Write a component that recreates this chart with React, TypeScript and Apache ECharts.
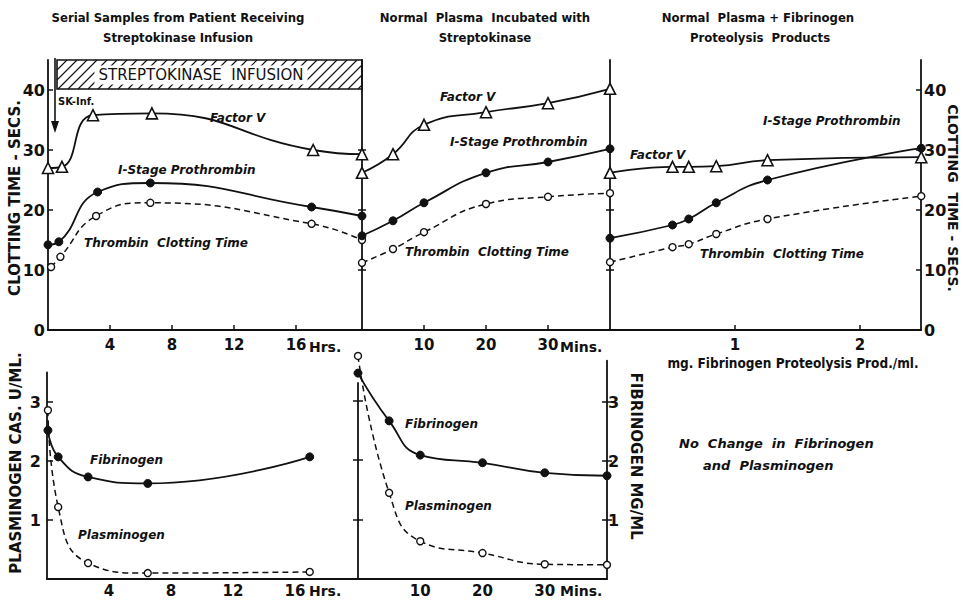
import React, { useEffect, useRef } from "react";
import * as echarts from "echarts";

const FONT = "'DejaVu Sans', sans-serif";
const COND = "'DejaVu Sans Condensed', 'DejaVu Sans', sans-serif";

// ---- Top-left: serial samples (hours) ----
const tlFactorVHrs = [0, 0.9, 2.9, 6.7, 17.1, 20.25];
const tlFactorV = [27, 27.2, 35.8, 36.1, 30, 29.3];
const tlProthHrs = [0, 0.7, 3.2, 6.6, 17, 20.25];
const tlProth = [14.2, 14.7, 23, 24.5, 20.5, 19];
const tlThrombinHrs = [0.2, 0.8, 3.1, 6.6, 17, 20.25];
const tlThrombin = [10.5, 12.2, 19, 21.2, 17.7, 15];

// ---- Top-middle: normal plasma + streptokinase (minutes) ----
const tmMins = [0, 5, 10, 20, 30, 40];
const tmFactorV = [26.2, 29.3, 34.2, 36.3, 37.8, 40.2];
const tmProth = [15.7, 18.2, 21.2, 26.2, 28, 30.2];
const tmThrombin = [11.2, 13.5, 16.3, 21, 22.2, 22.8];

// ---- Top-right: fibrinogen proteolysis products (mg/ml) ----
const trMg = [0, 0.5, 0.63, 0.85, 1.26, 2.49];
const trFactorV = [26.2, 27.2, 27.2, 27.3, 28.3, 28.8];
const trProth = [15.3, 17.5, 18.5, 21.2, 25, 30.3];
const trThrombin = [11.3, 13.8, 14.3, 16, 18.5, 22.3];

// ---- Bottom-left (hours) ----
const blHrs = [0.06, 0.72, 2.65, 6.5, 16.95];
const blFibrinogen = [2.52, 2.07, 1.73, 1.62, 2.07];
const blPlasminogen = [2.86, 1.22, 0.27, 0.1, 0.12];

// ---- Bottom-middle (minutes) ----
const bmMins = [0, 5, 10, 20, 30, 40];
const bmFibrinogen = [3.49, 2.68, 2.1, 1.97, 1.8, 1.75];
const bmPlasminogen = [3.78, 1.46, 0.64, 0.44, 0.25, 0.24];

// ---- Tick values ----
const hrsTicks = [4, 8, 12, 16];
const minsTicks = [10, 20, 30];
const mgTicks = [1, 2];
const secsLabels = [0, 10, 20, 30, 40];
const secsTicks = [10, 20, 30, 40];
const dividerTicks = [10, 20, 30];
const unitTicks = [1, 2, 3];

const pts = (xs: number[], ys: number[]) => xs.map((x, i) => [x, ys[i]]);

const BLACK = "#111";

function xAx(gridIndex: number, max: number, ticks: number[], opts: any = {}) {
  return {
    type: "value",
    gridIndex,
    min: 0,
    max,
    axisLine: { show: true, onZero: false, lineStyle: { color: BLACK, width: 1.8 } },
    axisTick: {
      show: opts.tick !== false,
      inside: true,
      length: 5,
      customValues: ticks,
      lineStyle: { color: BLACK, width: 1.5 },
    },
    axisLabel: {
      show: true,
      customValues: ticks,
      color: BLACK,
      fontFamily: FONT,
      fontWeight: "bold",
      fontSize: 15,
      margin: opts.margin ?? 7,
    },
    splitLine: { show: false },
  };
}

function yAx(gridIndex: number, max: number, o: any) {
  return {
    type: "value",
    gridIndex,
    min: 0,
    max,
    position: o.position || "left",
    axisLine: { show: o.line !== false, onZero: false, lineStyle: { color: BLACK, width: 1.8 } },
    axisTick: {
      show: !!o.ticks,
      inside: !!o.inside,
      length: o.tickLen ?? 5,
      customValues: o.ticks || [],
      lineStyle: { color: BLACK, width: 1.5 },
    },
    axisLabel: {
      show: !!o.labels,
      customValues: o.labels || [],
      color: BLACK,
      fontFamily: FONT,
      fontWeight: "bold",
      fontSize: o.fontSize ?? 16,
      margin: o.margin ?? 4,
    },
    splitLine: { show: false },
  };
}

function ser(kind: string, data: number[][], xi: number, yi: number) {
  const base: any = {
    type: "line",
    xAxisIndex: xi,
    yAxisIndex: yi,
    data,
    smooth: 0.5,
    clip: false,
    showSymbol: true,
    z: 5,
  };
  if (kind === "tri") {
    return {
      ...base,
      symbol: "triangle",
      symbolSize: 11,
      itemStyle: { color: "#fff", borderColor: BLACK, borderWidth: 1.6 },
      lineStyle: { color: BLACK, width: 1.8 },
    };
  }
  if (kind === "dot") {
    return {
      ...base,
      symbol: "circle",
      symbolSize: 8,
      itemStyle: { color: BLACK, borderColor: BLACK, borderWidth: 1 },
      lineStyle: { color: BLACK, width: 1.8 },
    };
  }
  return {
    ...base,
    symbol: "circle",
    symbolSize: 7,
    itemStyle: { color: "#fff", borderColor: BLACK, borderWidth: 1.4 },
    lineStyle: { color: BLACK, width: 1.5, type: [6, 4] },
  };
}

function txt(text: string, x: number, y: number, o: any = {}) {
  return {
    type: "text",
    x,
    y,
    rotation: o.rotation || 0,
    z: 10,
    style: {
      text,
      fill: BLACK,
      font: `${o.italic ? "italic " : ""}${o.weight || "bold"} ${o.size || 13}px ${o.family || FONT}`,
      textAlign: o.align || "left",
      textVerticalAlign: "middle",
      backgroundColor: o.bg,
      padding: o.pad,
    },
  };
}

export default function App() {
  const ref = useRef<HTMLDivElement>(null);
  useEffect(() => {
    const chart = echarts.init(ref.current!, null, { renderer: "svg" });

    // hatched infusion box
    const hatch: any[] = [];
    const hx0 = 57, hx1 = 362, hy0 = 60, hy1 = 89, step = 10;
    const hh = hy1 - hy0;
    for (let c = hx0 - hh; c < hx1; c += step) {
      let xa = c, ya = hy1, xb = c + hh, yb = hy0;
      if (xa < hx0) { ya = hy1 - (hx0 - c); xa = hx0; }
      if (xb > hx1) { yb = hy1 - (hx1 - c); xb = hx1; }
      hatch.push({ type: "line", z: 8, shape: { x1: xa, y1: ya, x2: xb, y2: yb }, style: { stroke: BLACK, lineWidth: 1.1 } });
    }

    const it = { italic: true, size: 12 };

    const graphics: any[] = [
      ...hatch,
      { type: "rect", z: 9, shape: { x: hx0, y: hy0, width: hx1 - hx0, height: hh }, style: { fill: "none", stroke: BLACK, lineWidth: 1.6 } },
      txt("STREPTOKINASE  INFUSION", 201, 75, { size: 15, weight: "normal", align: "center", bg: "#fff", pad: [2, 4] }),
      // SK-Inf arrow
      { type: "line", z: 9, shape: { x1: 55, y1: 58, x2: 55, y2: 124 }, style: { stroke: BLACK, lineWidth: 1.6 } },
      { type: "polygon", z: 9, shape: { points: [[51, 121], [59, 121], [55, 133]] }, style: { fill: BLACK } },
      txt("SK-Inf.", 58, 101, { size: 11, family: COND }),
      // titles
      txt("Serial Samples from Patient Receiving", 178, 17, { size: 13, family: COND, align: "center" }),
      txt("Streptokinase Infusion", 178, 37, { size: 13, family: COND, align: "center" }),
      txt("Normal  Plasma  Incubated with", 485, 17, { size: 13, family: COND, align: "center" }),
      txt("Streptokinase", 485, 37, { size: 13, family: COND, align: "center" }),
      txt("Normal  Plasma + Fibrinogen", 758, 17, { size: 13, family: COND, align: "center" }),
      txt("Proteolysis  Products", 760, 37, { size: 13, family: COND, align: "center" }),
      // axis names
      txt("CLOTTING TIME - SECS.", 15, 198, { size: 15, align: "center", rotation: Math.PI / 2 }),
      txt("CLOTTING  TIME - SECS.", 953, 198, { size: 14, align: "center", rotation: -Math.PI / 2 }),
      txt("PLASMINOGEN CAS. U/ML.", 16, 463, { size: 15, align: "center", rotation: Math.PI / 2 }),
      txt("FIBRINOGEN MG/ML", 636, 456, { size: 15, align: "center", rotation: -Math.PI / 2 }),
      txt("Hrs.", 309, 347, { size: 14 }),
      txt("Mins.", 560, 347, { size: 14 }),
      txt("Hrs.", 309, 591, { size: 14 }),
      txt("Mins.", 560, 591, { size: 14 }),
      txt("mg. Fibrinogen Proteolysis Prod./ml.", 793, 363, { size: 13.5, align: "center", family: COND }),
      // series labels
      txt("Factor V", 210, 118, it),
      txt("I-Stage Prothrombin", 118, 170, it),
      txt("Thrombin  Clotting Time", 84, 243, it),
      txt("Factor V", 440, 97, it),
      txt("I-Stage Prothrombin", 450, 142, it),
      txt("Thrombin  Clotting Time", 405, 252, it),
      txt("I-Stage Prothrombin", 763, 121, it),
      txt("Factor V", 630, 155, it),
      txt("Thrombin  Clotting Time", 700, 254, it),
      txt("Fibrinogen", 90, 460, it),
      txt("Plasminogen", 78, 535, it),
      txt("Fibrinogen", 405, 424, it),
      txt("Plasminogen", 405, 506, it),
      txt("No  Change  in  Fibrinogen", 679, 443, { italic: true, size: 13 }),
      txt("and  Plasminogen", 703, 465, { italic: true, size: 13 }),
    ];

    const option: any = {
      animation: false,
      backgroundColor: "#fff",
      grid: [
        { left: 48, top: 60, width: 314, height: 270 },
        { left: 362, top: 60, width: 248, height: 270 },
        { left: 610, top: 60, width: 311, height: 270 },
        { left: 47, top: 372.5, width: 310, height: 206.5 },
        { left: 358, top: 360.7, width: 249, height: 218.3 },
        { left: 358, top: 383, width: 249, height: 196 },
      ],
      xAxis: [
        xAx(0, 20.25, hrsTicks),
        xAx(1, 40, minsTicks),
        xAx(2, 2.488, mgTicks, { margin: 7 }),
        xAx(3, 20, hrsTicks, { tick: false, margin: 4 }),
        xAx(4, 40, minsTicks, { tick: false, margin: 4 }),
        { type: "value", gridIndex: 5, min: 0, max: 40, show: false },
      ],
      yAxis: [
        yAx(0, 45, { labels: secsLabels, ticks: secsTicks, inside: true, margin: 3 }),
        yAx(1, 45, { ticks: dividerTicks, inside: true, tickLen: 4 }),
        yAx(1, 45, { ticks: dividerTicks, inside: false, tickLen: 4, line: false }),
        yAx(2, 45, { ticks: dividerTicks, inside: true, tickLen: 4 }),
        yAx(2, 45, { ticks: dividerTicks, inside: false, tickLen: 4, line: false }),
        yAx(2, 45, { position: "right", labels: secsLabels, ticks: secsTicks, inside: true, margin: 3, tickLen: 5 }),
        yAx(3, 3.5, { labels: unitTicks, ticks: unitTicks, inside: true, margin: 6, tickLen: 6 }),
        yAx(4, 3.7, { position: "right", ticks: unitTicks, inside: true, tickLen: 5 }),
        yAx(4, 3.7, { position: "right", ticks: unitTicks, labels: unitTicks, inside: false, tickLen: 5, line: false, margin: 1, fontSize: 16 }),
        yAx(5, 3.3, { ticks: unitTicks, inside: true, tickLen: 5 }),
        yAx(5, 3.3, { ticks: unitTicks, inside: false, tickLen: 5, line: false }),
      ],
      series: [
        ser("tri", pts(tlFactorVHrs, tlFactorV), 0, 0),
        ser("dot", pts(tlProthHrs, tlProth), 0, 0),
        ser("ring", pts(tlThrombinHrs, tlThrombin), 0, 0),
        ser("tri", pts(tmMins, tmFactorV), 1, 1),
        ser("dot", pts(tmMins, tmProth), 1, 1),
        ser("ring", pts(tmMins, tmThrombin), 1, 1),
        ser("tri", pts(trMg, trFactorV), 2, 3),
        ser("dot", pts(trMg, trProth), 2, 3),
        ser("ring", pts(trMg, trThrombin), 2, 3),
        ser("dot", pts(blHrs, blFibrinogen), 3, 6),
        ser("ring", pts(blHrs, blPlasminogen), 3, 6),
        ser("dot", pts(bmMins, bmFibrinogen), 4, 7),
        ser("ring", pts(bmMins, bmPlasminogen), 4, 7),
      ],
      graphic: graphics,
    };
    chart.setOption(option);
    return () => chart.dispose();
  }, []);
  return (
    <div
      ref={ref}
      style={{ position: "fixed", left: 0, top: 0, width: 963, height: 603, background: "#fff" }}
    />
  );
}
